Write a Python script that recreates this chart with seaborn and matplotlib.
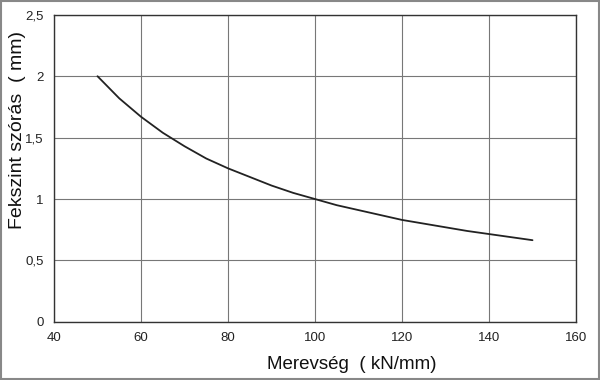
import matplotlib
matplotlib.use('Agg')
import matplotlib.pyplot as plt
import seaborn as sns
import pandas as pd

# adatok
merevseg = [50, 55, 60, 65, 70, 75, 80, 85, 90, 95, 100,
            105, 110, 115, 120, 125, 130, 135, 140, 145, 150]
szoras = [2.0, 1.82, 1.67, 1.54, 1.43, 1.33, 1.25, 1.18, 1.11, 1.05, 1.0,
          0.95, 0.91, 0.87, 0.83, 0.80, 0.77, 0.74, 0.715, 0.69, 0.665]
x_ticks = [40, 60, 80, 100, 120, 140, 160]
y_ticks = [0, 0.5, 1, 1.5, 2, 2.5]
y_labels = ['0', '0,5', '1', '1,5', '2', '2,5']

df = pd.DataFrame({'x': merevseg, 'y': szoras})

sns.set_style('white')
plt.rcParams['font.family'] = ['Liberation Sans', 'DejaVu Sans']

fig = plt.figure(figsize=(6, 3.8), dpi=100)
ax = fig.add_axes([0.09, 0.153, 0.87, 0.808])

sns.lineplot(data=df, x='x', y='y', color='#222222', linewidth=1.3, ax=ax)

ax.set_xlim(40, 160)
ax.set_ylim(0, 2.5)
ax.set_xticks(x_ticks)
ax.set_yticks(y_ticks)
ax.set_yticklabels(y_labels)
ax.grid(True, color='#777777', linewidth=0.8)
for s in ax.spines.values():
    s.set_color('#333333')
    s.set_linewidth(1.0)
ax.tick_params(axis='both', direction='out', length=4, width=0.8, colors='#333333',
               labelsize=9.5, labelcolor='#222222')
ax.set_xlabel('Merevség  ( kN/mm)', fontsize=13.5, color='#111111')
ax.set_ylabel('Fekszint szórás  ( mm)', fontsize=14, color='#111111')
ax.xaxis.set_label_coords(0.571, -0.11)
ax.yaxis.set_label_coords(-0.054, 0.625)

# szürke keret a kép körül
fig.patches.append(plt.Rectangle((0.002, 0.003), 0.996, 0.994, transform=fig.transFigure,
                                 fill=False, edgecolor='#888888', linewidth=1.5))

fig.savefig('out.png', dpi=100)
